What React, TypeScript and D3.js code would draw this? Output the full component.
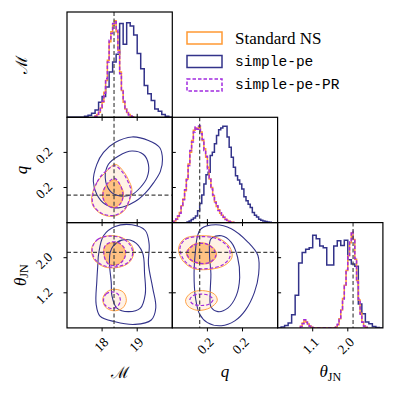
import React from "react";
import * as d3 from "d3";

const W = 396;
const H = 394;
const LEFT = 67;
const TOP = 12;
const CELL = 105.3;

const ORANGE = "#ff9933";
const NAVY = "#33338a";
const PURPLE = "#a12be0";
const TRUTH = "#444444";

// parameter ranges, ticks, injected values
const mchirpDomain = [17, 20];
const qDomain = [0.12, 0.27];
const thetaDomain = [0.35, 2.75];
const mchirpTicks = [18, 19];
const qTicks = [0.17, 0.22];
const thetaTicks = [1.15, 1.95];
const mchirpTickLabels = ["18", "19"];
const qTickLabels = ["0.2", "0.2"];
const thetaTickLabelsX = ["1.1", "2.0"];
const thetaTickLabelsY = ["1.2", "2.0"];
const truths = [18.34, 0.159, 2.07];

const seriesNames = ["Standard NS", "simple-pe", "simple-pe-PR"];

// 1D histograms (bin start, bin width, heights)
const mchirpNS = { start: 17.8, width: 0.05, counts: [4, 8, 15, 28, 45, 75, 110, 170, 225, 255, 275, 288, 255, 200, 135, 80, 45, 25, 14, 8, 4, 2] };
const mchirpSPE = { start: 17.0, width: 0.1, counts: [0, 0, 0, 0, 0, 3, 6, 12, 22, 45, 62, 90, 135, 165, 188, 280, 218, 282, 272, 245, 190, 145, 95, 70, 50, 25, 18, 8, 3, 0] };
const mchirpPR = { start: 17.8, width: 0.05, counts: [3, 9, 16, 30, 48, 72, 115, 165, 230, 250, 280, 285, 260, 195, 130, 78, 48, 24, 13, 7, 4, 2] };

const qNS = { start: 0.12, width: 0.0025, counts: [2, 5, 10, 18, 30, 50, 70, 95, 130, 175, 210, 245, 275, 282, 280, 285, 270, 245, 220, 195, 165, 130, 105, 80, 62, 48, 38, 28, 22, 15, 10, 6, 4, 2, 1] };
const qSPE = { start: 0.141, width: 0.003, counts: [2, 5, 9, 14, 20, 35, 57, 82, 115, 143, 150, 200, 210, 235, 260, 277, 282, 287, 287, 255, 225, 195, 165, 140, 127, 115, 100, 77, 65, 55, 45, 30, 22, 17, 10, 7, 5, 3, 2, 1] };
const qPR = { start: 0.12, width: 0.0025, counts: [1, 4, 11, 20, 28, 52, 68, 98, 128, 170, 215, 240, 270, 285, 278, 288, 265, 248, 215, 198, 160, 133, 100, 82, 60, 50, 36, 29, 20, 16, 9, 7, 3, 2, 1] };

const thetaNS = { start: 0.87, width: 0.04, counts: [5, 15, 23, 18, 12, 6, 2, 0, 0, 0, 0, 0, 0, 0, 0, 0, 0, 0, 0, 0, 3, 10, 28, 55, 90, 130, 175, 220, 260, 290, 270, 210, 145, 85, 45, 18, 6, 2] };
const thetaSPE = { start: 0.35, width: 0.08, counts: [0, 3, 7, 15, 40, 100, 198, 230, 240, 245, 283, 272, 250, 245, 192, 192, 250, 266, 252, 268, 208, 195, 188, 73, 43, 18, 13, 4, 1, 0] };
const thetaPR = { start: 0.87, width: 0.04, counts: [4, 13, 25, 17, 13, 5, 2, 0, 0, 0, 0, 0, 0, 0, 0, 0, 0, 0, 0, 0, 2, 11, 26, 58, 88, 128, 178, 218, 262, 295, 268, 212, 140, 88, 42, 17, 5, 2] };

const mqSPE = [
  [[17.75, 0.179], [17.85, 0.203], [18.04, 0.22], [18.37, 0.234], [18.85, 0.242], [19.32, 0.237], [19.64, 0.227], [19.72, 0.21], [19.66, 0.193], [19.47, 0.177], [19.23, 0.162], [18.94, 0.15], [18.47, 0.141], [18.09, 0.146], [17.85, 0.16]],
  [[18.09, 0.184], [18.18, 0.203], [18.47, 0.215], [18.85, 0.222], [19.18, 0.217], [19.32, 0.203], [19.28, 0.184], [19.09, 0.17], [18.85, 0.16], [18.51, 0.158], [18.23, 0.165]],
];
const mqNSOuter = [
  [[17.7, 0.155], [17.85, 0.177], [18.09, 0.191], [18.37, 0.203], [18.61, 0.193], [18.75, 0.181], [18.85, 0.167], [18.77, 0.15], [18.61, 0.136], [18.32, 0.129], [17.99, 0.132], [17.75, 0.143]],
];
const mqNSInner = [
  [[18.04, 0.167], [18.2, 0.177], [18.37, 0.181], [18.51, 0.174], [18.61, 0.162], [18.56, 0.15], [18.37, 0.142], [18.16, 0.145], [18.02, 0.155]],
];
const mqPR = [
  [[17.72, 0.154], [17.86, 0.178], [18.1, 0.193], [18.36, 0.201], [18.58, 0.192], [18.72, 0.18], [18.82, 0.166], [18.75, 0.149], [18.6, 0.137], [18.33, 0.13], [18.0, 0.133], [17.77, 0.143]],
  [[18.06, 0.168], [18.21, 0.179], [18.36, 0.183], [18.5, 0.175], [18.59, 0.162], [18.55, 0.149], [18.37, 0.141], [18.17, 0.144], [18.03, 0.155]],
];

const mtSPE = [
  [[17.9, 2.03], [18.04, 2.45], [18.37, 2.66], [18.85, 2.7], [19.23, 2.57], [19.34, 2.26], [19.32, 1.81], [19.44, 1.27], [19.53, 0.81], [19.4, 0.53], [18.94, 0.43], [18.37, 0.49], [17.94, 0.62], [17.83, 0.89], [17.85, 1.42], [17.88, 1.81]],
  [[18.32, 2.22], [18.56, 2.35], [18.9, 2.32], [19.15, 2.07], [19.21, 1.58], [19.23, 1.12], [19.09, 0.8], [18.75, 0.72], [18.42, 0.8], [18.28, 1.08], [18.26, 1.39], [18.21, 1.81], [18.23, 2.07]],
];
const mtNSOuter = [
  [[17.7, 2.15], [17.85, 2.35], [18.18, 2.45], [18.56, 2.41], [18.83, 2.25], [18.9, 2.05], [18.77, 1.84], [18.47, 1.73], [18.07, 1.74], [17.78, 1.9]],
  [[18.02, 1.01], [18.13, 1.17], [18.37, 1.23], [18.61, 1.16], [18.69, 0.97], [18.58, 0.8], [18.32, 0.74], [18.09, 0.83]],
];
const mtNSInner = [
  [[18.07, 2.2], [18.28, 2.29], [18.51, 2.26], [18.66, 2.09], [18.61, 1.92], [18.42, 1.79], [18.2, 1.81], [18.07, 1.97]],
];
const mtPR = [
  [[17.72, 2.17], [17.88, 2.37], [18.2, 2.44], [18.55, 2.4], [18.8, 2.24], [18.87, 2.04], [18.75, 1.85], [18.46, 1.75], [18.08, 1.76], [17.8, 1.91]],
  [[18.04, 0.98], [18.11, 1.12], [18.28, 1.17], [18.45, 1.12], [18.52, 0.98], [18.45, 0.85], [18.28, 0.79], [18.11, 0.85]],
  [[18.08, 2.21], [18.29, 2.31], [18.52, 2.27], [18.67, 2.1], [18.62, 1.91], [18.42, 1.78], [18.19, 1.8], [18.06, 1.98]],
];

const qtSPE = [
  [[0.161, 2.61], [0.182, 2.7], [0.204, 2.61], [0.228, 2.3], [0.242, 2.0], [0.243, 1.58], [0.237, 1.16], [0.224, 0.75], [0.209, 0.51], [0.19, 0.4], [0.17, 0.47], [0.159, 0.66], [0.153, 1.04], [0.151, 1.58], [0.153, 2.11], [0.156, 2.45]],
  [[0.175, 2.38], [0.19, 2.45], [0.204, 2.3], [0.213, 1.96], [0.216, 1.5], [0.211, 1.08], [0.199, 0.8], [0.185, 0.72], [0.175, 0.83], [0.174, 1.16], [0.175, 1.58], [0.173, 2.03]],
];
const qtNSOuter = [
  [[0.129, 2.17], [0.137, 2.38], [0.159, 2.45], [0.185, 2.4], [0.202, 2.19], [0.205, 1.96], [0.194, 1.77], [0.17, 1.68], [0.149, 1.71], [0.134, 1.9]],
  [[0.139, 0.99], [0.147, 1.15], [0.163, 1.2], [0.18, 1.12], [0.184, 0.97], [0.174, 0.81], [0.156, 0.75], [0.142, 0.85]],
];
const qtNSInner = [
  [[0.14, 2.07], [0.15, 2.25], [0.167, 2.28], [0.18, 2.15], [0.183, 2.0], [0.175, 1.84], [0.16, 1.81], [0.145, 1.9]],
];
const qtPR = [
  [[0.131, 2.18], [0.139, 2.37], [0.16, 2.43], [0.184, 2.38], [0.2, 2.18], [0.202, 1.97], [0.192, 1.79], [0.17, 1.7], [0.15, 1.73], [0.136, 1.91]],
  [[0.145, 0.99], [0.15, 1.09], [0.161, 1.12], [0.172, 1.09], [0.178, 0.99], [0.172, 0.89], [0.161, 0.86], [0.15, 0.89]],
  [[0.141, 2.06], [0.151, 2.24], [0.167, 2.27], [0.179, 2.14], [0.182, 2.0], [0.174, 1.85], [0.16, 1.82], [0.146, 1.91]],
];

const params = [
  { domain: mchirpDomain, ticks: mchirpTicks, xLabels: mchirpTickLabels, yLabels: mchirpTickLabels, hists: [mchirpNS, mchirpSPE, mchirpPR] },
  { domain: qDomain, ticks: qTicks, xLabels: qTickLabels, yLabels: qTickLabels, hists: [qNS, qSPE, qPR] },
  { domain: thetaDomain, ticks: thetaTicks, xLabels: thetaTickLabelsX, yLabels: thetaTickLabelsY, hists: [thetaNS, thetaSPE, thetaPR] },
];

const pairs: Record<string, any> = {
  "1_0": { spe: mqSPE, nsOuter: mqNSOuter, nsInner: mqNSInner, pr: mqPR },
  "2_0": { spe: mtSPE, nsOuter: mtNSOuter, nsInner: mtNSInner, pr: mtPR },
  "2_1": { spe: qtSPE, nsOuter: qtNSOuter, nsInner: qtNSInner, pr: qtPR },
};

const xScale = (j: number) =>
  d3.scaleLinear().domain(params[j].domain).range([LEFT + j * CELL, LEFT + (j + 1) * CELL]);
const yScale = (i: number) =>
  d3.scaleLinear().domain(params[i].domain).range([TOP + (i + 1) * CELL, TOP + i * CELL]);

function histPath(h: any, x: any, y: any) {
  const pts: [number, number][] = [[h.start, 0]];
  h.counts.forEach((c: number, k: number) => pts.push([h.start + k * h.width, c]));
  const end = h.start + h.counts.length * h.width;
  pts.push([end, h.counts[h.counts.length - 1]]);
  pts.push([end, 0]);
  return d3.line().x((d) => x(d[0])).y((d) => y(d[1])).curve(d3.curveStepAfter)(pts) as string;
}

function loopPath(loop: number[][], x: any, y: any) {
  return d3
    .line<number[]>()
    .x((d) => x(d[0]))
    .y((d) => y(d[1]))
    .curve(d3.curveCatmullRomClosed.alpha(0.5))(loop) as string;
}

const TICK = 3.5;
const serif = "'Liberation Serif', 'DejaVu Serif', serif";
const mono = "'Liberation Mono', 'DejaVu Sans Mono', monospace";

const DiagPanel = ({ i }: { i: number }) => {
  const x = xScale(i);
  const x0 = LEFT + i * CELL;
  const y0 = TOP + i * CELL;
  const hists = params[i].hists;
  const maxH = d3.max(hists.flatMap((h) => h.counts)) as number;
  const y = d3.scaleLinear().domain([0, maxH * 1.09]).range([y0 + CELL, y0]);
  const id = `clip-d${i}`;
  return (
    <g>
      <clipPath id={id}>
        <rect x={x0} y={y0} width={CELL} height={CELL} />
      </clipPath>
      <g clipPath={`url(#${id})`}>
        <path d={histPath(hists[1], x, y)} fill="none" stroke={NAVY} strokeWidth={1.5} />
        <path d={histPath(hists[0], x, y)} fill="none" stroke={ORANGE} strokeWidth={1.5} />
        <path d={histPath(hists[2], x, y)} fill="none" stroke={PURPLE} strokeWidth={1.5} strokeDasharray="3.5,2" />
        <line x1={x(truths[i])} x2={x(truths[i])} y1={y0} y2={y0 + CELL} stroke={TRUTH} strokeWidth={1.2} strokeDasharray="4,2.5" />
      </g>
      {params[i].ticks.map((t, k) => (
        <line key={k} x1={x(t)} x2={x(t)} y1={y0 + CELL} y2={y0 + CELL + TICK} stroke="#000" strokeWidth={1} />
      ))}
      <rect x={x0} y={y0} width={CELL} height={CELL} fill="none" stroke="#000" strokeWidth={1.2} />
    </g>
  );
};

const PairPanel = ({ i, j }: { i: number; j: number }) => {
  const x = xScale(j);
  const y = yScale(i);
  const x0 = LEFT + j * CELL;
  const y0 = TOP + i * CELL;
  const c = pairs[`${i}_${j}`];
  const id = `clip-${i}-${j}`;
  return (
    <g>
      <clipPath id={id}>
        <rect x={x0} y={y0} width={CELL} height={CELL} />
      </clipPath>
      <g clipPath={`url(#${id})`}>
        {c.nsOuter.map((l: number[][], k: number) => (
          <path key={`o${k}`} d={loopPath(l, x, y)} fill={ORANGE} fillOpacity={0.13} stroke="none" />
        ))}
        {c.nsInner.map((l: number[][], k: number) => (
          <path key={`i${k}`} d={loopPath(l, x, y)} fill={ORANGE} fillOpacity={0.55} stroke="none" />
        ))}
        {c.spe.map((l: number[][], k: number) => (
          <path key={`s${k}`} d={loopPath(l, x, y)} fill="none" stroke={NAVY} strokeWidth={1.1} />
        ))}
        {[...c.nsOuter, ...c.nsInner].map((l: number[][], k: number) => (
          <path key={`n${k}`} d={loopPath(l, x, y)} fill="none" stroke={ORANGE} strokeWidth={0.9} />
        ))}
        {c.pr.map((l: number[][], k: number) => (
          <path key={`p${k}`} d={loopPath(l, x, y)} fill="none" stroke={PURPLE} strokeWidth={1.2} strokeDasharray="3.5,2" />
        ))}
        <line x1={x(truths[j])} x2={x(truths[j])} y1={y0} y2={y0 + CELL} stroke={TRUTH} strokeWidth={1.2} strokeDasharray="4,2.5" />
        <line x1={x0} x2={x0 + CELL} y1={y(truths[i])} y2={y(truths[i])} stroke={TRUTH} strokeWidth={1.2} strokeDasharray="4,2.5" />
      </g>
      {params[j].ticks.map((t, k) => (
        <g key={`x${k}`}>
          <line x1={x(t)} x2={x(t)} y1={y0 + CELL} y2={y0 + CELL + TICK} stroke="#000" />
          <line x1={x(t)} x2={x(t)} y1={y0} y2={y0 - TICK} stroke="#000" />
        </g>
      ))}
      {params[i].ticks.map((t, k) => (
        <g key={`y${k}`}>
          <line x1={x0} x2={x0 - TICK} y1={y(t)} y2={y(t)} stroke="#000" />
          <line x1={x0 + CELL} x2={x0 + CELL + TICK} y1={y(t)} y2={y(t)} stroke="#000" />
        </g>
      ))}
      <rect x={x0} y={y0} width={CELL} height={CELL} fill="none" stroke="#000" strokeWidth={1.2} />
    </g>
  );
};

const App = () => {
  const bottom = TOP + 3 * CELL;
  const labelSize = 17;
  return (
    <svg width={W} height={H} style={{ position: "absolute", left: 0, top: 0, background: "#fff" }}>
      {[0, 1, 2].map((i) => (
        <DiagPanel key={`d${i}`} i={i} />
      ))}
      {[
        [1, 0],
        [2, 0],
        [2, 1],
      ].map(([i, j]) => (
        <PairPanel key={`p${i}${j}`} i={i} j={j} />
      ))}

      {/* x tick labels on bottom row */}
      {[0, 1, 2].map((j) =>
        params[j].ticks.map((t, k) => (
          <text
            key={`xt${j}${k}`}
            transform={`translate(${xScale(j)(t) + 4},${bottom + 12}) rotate(-45)`}
            textAnchor="end"
            dominantBaseline="central"
            fontFamily={serif}
            fontSize={13.5}
          >
            {params[j].xLabels[k]}
          </text>
        ))
      )}
      {/* y tick labels on left column */}
      {[1, 2].map((i) =>
        params[i].ticks.map((t, k) => (
          <text
            key={`yt${i}${k}`}
            transform={`translate(${LEFT - 17},${yScale(i)(t) - 3}) rotate(-45)`}
            textAnchor="end"
            dominantBaseline="central"
            fontFamily={serif}
            fontSize={13.5}
          >
            {params[i].yLabels[k]}
          </text>
        ))
      )}

      {/* axis labels */}
      <text transform={`translate(21,${TOP + CELL / 2}) rotate(-90)`} textAnchor="middle" dominantBaseline="central" fontFamily="'DejaVu Serif', serif" fontSize={16}>
        ℳ
      </text>
      <text transform={`translate(21,${TOP + 1.5 * CELL}) rotate(-90)`} textAnchor="middle" dominantBaseline="central" fontFamily={serif} fontStyle="italic" fontSize={labelSize}>
        q
      </text>
      <text transform={`translate(20,${TOP + 2.5 * CELL}) rotate(-90)`} textAnchor="middle" dominantBaseline="central" fontFamily={serif} fontSize={labelSize}>
        <tspan fontStyle="italic">θ</tspan>
        <tspan fontSize={12} dy={4}>JN</tspan>
      </text>
      <text x={LEFT + CELL / 2} y={378} textAnchor="middle" fontFamily="'DejaVu Serif', serif" fontSize={16}>
        ℳ
      </text>
      <text x={LEFT + 1.5 * CELL} y={377} textAnchor="middle" fontFamily={serif} fontStyle="italic" fontSize={labelSize}>
        q
      </text>
      <text x={LEFT + 2.5 * CELL} y={377} textAnchor="middle" fontFamily={serif} fontSize={labelSize}>
        <tspan fontStyle="italic">θ</tspan>
        <tspan fontSize={12} dy={4}>JN</tspan>
      </text>

      {/* legend */}
      {seriesNames.map((name, k) => {
        const cy = 38 + k * 23.5;
        const stroke = [ORANGE, NAVY, PURPLE][k];
        return (
          <g key={name}>
            <rect x={187} y={cy - 6} width={35} height={12} fill="none" stroke={stroke} strokeWidth={1.5} strokeDasharray={k === 2 ? "3.5,2" : undefined} />
            <text x={235} y={cy} dominantBaseline="central" fontFamily={k === 0 ? serif : mono} fontSize={k === 0 ? 17 : 14.5}>
              {name}
            </text>
          </g>
        );
      })}
    </svg>
  );
};

export default App;
